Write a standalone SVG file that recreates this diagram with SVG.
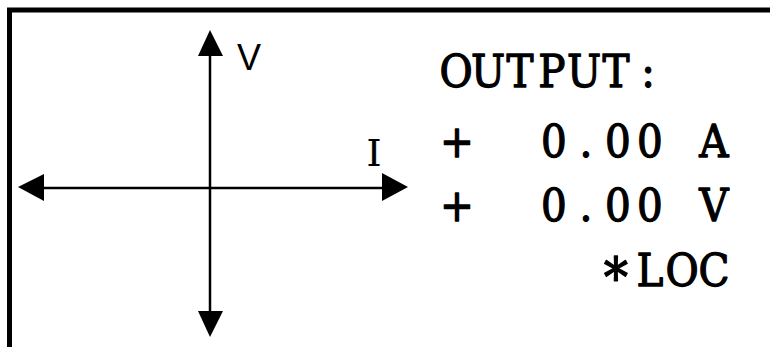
<svg xmlns="http://www.w3.org/2000/svg" width="770" height="347" viewBox="0 0 770 347">
<style>
.axis{stroke:#000;stroke-width:2.5;fill:none}
.head{fill:#000}
.ser{font-family:"DejaVu Serif","Liberation Serif",serif;font-size:45px;fill:#000;stroke:#000;stroke-width:1.3;stroke-linejoin:round;text-anchor:middle}
.lbl{font-family:"Liberation Sans",Arial,sans-serif;font-size:36px;fill:#000}
</style>
<rect width="770" height="347" fill="#fff"/>
<g id="frame">
<path d="M9.5 347 V10 H770" stroke="#000" stroke-width="5" fill="none"/>
</g>
<g id="connectors">
<line class="axis" x1="210" y1="54" x2="210" y2="313"/>
<line class="axis" x1="42" y1="188" x2="384" y2="188"/>
<polygon class="head" points="210,30 198,56 223,56"/>
<polygon class="head" points="210,337 198,311 223,311"/>
<polygon class="head" points="18,187 44,174 44,201"/>
<polygon class="head" points="408,187 382,173 382,201"/>
</g>
<g id="labels">
<text class="lbl" x="237" y="70">V</text>
<text class="ser" x="374" y="166" style="font-size:38px;stroke-width:0.2">I</text>
</g>
<g id="readout" transform="scale(0.9,1)">
<text class="ser" x="506.67 542.22 577.78 613.33 648.89 684.44 720" y="87">OUTPUT:</text>
<text class="ser" x="507.78" y="157">+</text>
<text class="ser" x="615.56 651.11 686.67 722.22 757.78 793.33" y="157">0.00 A</text>
<text class="ser" x="507.78" y="221">+</text>
<text class="ser" x="615.56 651.11 686.67 722.22 757.78 793.33" y="221">0.00 V</text>
<text class="ser" x="684.44 722.22 757.78 793.33" y="286"><tspan style="font-size:54px" dy="11">*</tspan><tspan dy="-11">LOC</tspan></text>
</g>
</svg>
